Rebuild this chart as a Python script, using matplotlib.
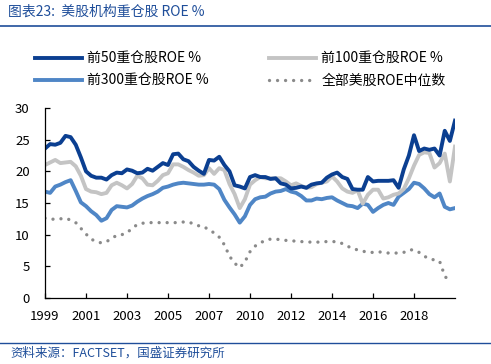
import numpy as np
import matplotlib
matplotlib.use("Agg")
import matplotlib.pyplot as plt
from matplotlib.lines import Line2D

plt.rcParams['font.family'] = ['Noto Sans CJK SC', 'DejaVu Sans']

top50 = [23.6, 24.3, 24.2, 24.5, 25.6, 25.4, 24.2, 22.2, 20.0, 19.3,
         19.0, 19.0, 18.7, 19.4, 19.8, 19.7, 20.3, 20.1, 19.7, 19.8,
         20.4, 20.1, 20.7, 21.3, 21.0, 22.7, 22.8, 21.9, 21.6, 20.7,
         20.1, 19.6, 21.8, 21.7, 22.3, 21.0, 20.0, 17.8, 17.6, 17.3,
         19.1, 19.4, 19.1, 19.1, 18.8, 18.9, 18.1, 17.9, 17.3, 17.4,
         17.6, 17.4, 17.9, 18.1, 18.2, 19.0, 19.5, 19.8, 19.1, 18.8,
         17.2, 17.1, 17.1, 19.1, 18.4, 18.5, 18.5, 18.5, 18.6, 17.4,
         20.3, 22.5, 25.7, 23.2, 23.6, 23.4, 23.6, 22.5, 26.4, 24.8,
         28.0]
top100 = [21.0, 21.4, 21.8, 21.3, 21.4, 21.5, 20.8, 19.3, 17.2, 16.8,
          16.7, 16.4, 16.6, 17.8, 18.2, 17.8, 17.3, 18.0, 19.3, 18.9,
          17.9, 17.8, 18.5, 19.4, 19.7, 21.1, 21.1, 20.7, 20.2, 19.8,
          19.3, 19.4, 20.5, 19.6, 20.5, 20.2, 18.0, 16.4, 14.2, 15.6,
          17.9, 18.6, 19.1, 18.9, 18.9, 18.9, 18.9, 18.4, 17.8, 18.1,
          17.7, 17.4, 17.5, 18.0, 18.2, 18.4, 19.2, 18.4, 17.3, 16.8,
          16.6, 17.0, 14.9, 16.3, 17.1, 17.1, 15.7, 15.9, 16.3, 16.5,
          17.2, 18.9, 20.9, 22.6, 23.0, 22.9, 20.6, 21.3, 22.8, 18.4,
          23.9]
top300 = [16.8, 16.6, 17.6, 17.9, 18.3, 18.6, 16.9, 15.1, 14.5, 13.7,
          13.1, 12.2, 12.6, 13.9, 14.5, 14.4, 14.3, 14.6, 15.2, 15.7,
          16.1, 16.4, 16.8, 17.4, 17.6, 17.9, 18.1, 18.2, 18.1, 18.0,
          17.9, 17.9, 18.0, 17.9, 17.2, 15.5, 14.3, 13.2, 11.9, 12.9,
          14.7, 15.6, 15.9, 16.0, 16.5, 16.8, 16.9, 17.2, 16.8, 16.6,
          16.1, 15.4, 15.4, 15.7, 15.6, 15.8, 15.9, 15.4, 15.0, 14.6,
          14.5, 14.2, 14.9, 14.7, 13.6, 14.2, 14.7, 15.0, 14.7, 16.0,
          16.6, 17.2, 18.2, 18.0, 17.3, 16.4, 15.9, 16.5, 14.4, 14.0,
          14.2]
median_all = [12.6, 12.5, 12.4, 12.5, 12.6, 12.3, 11.9, 11.0, 10.1, 9.3,
              8.9, 8.7, 8.9, 9.4, 9.9, 10.0, 10.3, 11.0, 11.6, 11.8,
              11.9, 11.9, 11.9, 11.9, 11.9, 11.9, 11.9, 12.0, 12.0, 11.7,
              11.4, 11.3, 10.7, 10.3, 9.6, 8.4, 6.6, 5.5, 4.8, 5.7,
              7.3, 8.2, 8.7, 9.1, 9.3, 9.3, 9.2, 9.1, 9.0, 9.0,
              8.9, 8.9, 8.8, 8.8, 8.9, 8.9, 8.9, 8.9, 8.6, 8.2,
              7.8, 7.6, 7.4, 7.2, 7.2, 7.3, 7.2, 7.1, 7.1, 7.1,
              7.2, 7.6, 7.6, 7.2, 6.6, 6.2, 6.0, 5.8, 3.5, 2.4]

year_labels = ["1999", "2001", "2003", "2005", "2007",
               "2010", "2012", "2014", "2016", "2018"]

c_dark = "#0B3F91"
c_gray = "#C4C4C4"
c_light = "#4F86C6"
c_dot = "#8A8A8A"
c_title = "#1F4E9A"

fig = plt.figure(figsize=(4.91, 3.64), dpi=100)
ax = fig.add_axes([45 / 491, 1 - 298 / 364, 410 / 491, 190 / 364])

x = np.arange(len(top50))
xm = np.arange(len(median_all))

l_dot, = ax.plot(xm, median_all, color=c_dot, lw=2.4,
                 linestyle=(0, (0.01, 2.4)), dash_capstyle="round")
l_light, = ax.plot(x, top300, color=c_light, lw=2.8, solid_joinstyle="round")
l_gray, = ax.plot(x, top100, color=c_gray, lw=2.8, solid_joinstyle="round")
l_dark, = ax.plot(x, top50, color=c_dark, lw=2.8, solid_joinstyle="round")

ax.set_xlim(0, 80)
ax.set_ylim(0, 30)
ax.set_yticks(range(0, 31, 5))
ax.set_xticks(np.arange(0, 80, 8))
ax.set_xticklabels(year_labels)
for s in ["top", "right"]:
    ax.spines[s].set_visible(False)
for s in ["left", "bottom"]:
    ax.spines[s].set_linewidth(0.9)
ax.tick_params(axis="both", direction="in", length=3.5, width=0.9,
               labelsize=9.5, colors="black")
ax.tick_params(axis="y", pad=11)
ax.tick_params(axis="x", pad=9)

handles = [l_dark, l_light, l_gray, l_dot]
labels = ["前50重仓股ROE %", "前300重仓股ROE %",
          "前100重仓股ROE %", "全部美股ROE中位数"]
fig.legend(handles, labels, ncol=2, loc="upper left",
           bbox_to_anchor=(29 / 491, 1 - 46 / 364), frameon=False,
           fontsize=10, handlelength=3.4, handletextpad=0.4,
           columnspacing=4.3, labelspacing=0.6, borderaxespad=0)

fig.text(8 / 491, 1 - 12 / 364, "图表23:  美股机构重仓股 ROE %",
         color=c_title, fontsize=10, style="italic", va="center", ha="left")
fig.add_artist(Line2D([0, 1], [1 - 26 / 364, 1 - 26 / 364],
                      color=c_title, lw=1.2))
fig.add_artist(Line2D([0, 1], [1 - 343 / 364, 1 - 343 / 364],
                      color=c_title, lw=1.0))
fig.text(10 / 491, 1 - 353 / 364, "资料来源：FACTSET，国盛证券研究所",
         color=c_title, fontsize=9, style="italic", va="center", ha="left")

fig.savefig("out.png", dpi=100)
